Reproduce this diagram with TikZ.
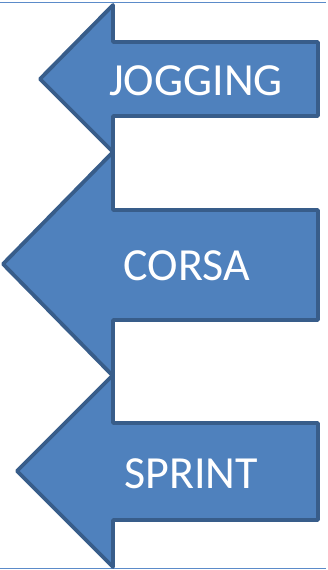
\documentclass[tikz,border=0pt]{standalone}
\usepackage{fontspec}
\setmainfont{Carlito}
\definecolor{arrowfill}{HTML}{4F81BD}
\definecolor{arrowline}{HTML}{385D8A}
\definecolor{frameline}{HTML}{5B8BC9}
\tikzset{
  leftarrow/.style={fill=arrowfill, draw=arrowline, line width=3.8pt, line join=round},
  arrowtext/.style={text=white, font=\fontsize{46}{46}\selectfont, anchor=base, inner sep=0pt},
  frame/.style={draw=frameline, line width=1.5pt}
}
\begin{document}
\begin{tikzpicture}[x=1pt,y=-1pt]
      \useasboundingbox (0,0) rectangle (327,570);
      % Coordinates: frame lines
      \coordinate (TL) at (0,2.5);
      \coordinate (TR) at (326,2.5);
      \coordinate (BL) at (0,568.5);
      \coordinate (BR) at (326,568.5);
      \draw[frame] (TL) -- (TR);
      \draw[frame] (BL) -- (BR);
      % Arrows: top to bottom
      \draw[leftarrow] (40,79) -- (113,5) -- (113,42) -- (318,42) -- (318,116) -- (113,116) -- (113,152) -- cycle;
      \draw[leftarrow] (3,264) -- (113,152) -- (113,210) -- (318,210) -- (318,320) -- (113,320) -- (113,376) -- cycle;
      \draw[leftarrow] (17,471) -- (113,375) -- (113,423) -- (318,423) -- (318,520) -- (113,520) -- (113,567) -- cycle;
      % Nodes: labels
      \node[arrowtext] (jogging) at (196,95) {JOGGING};
      \node[arrowtext] (corsa) at (187,280) {CORSA};
      \node[arrowtext] (sprint) at (191,488) {SPRINT};
    \end{tikzpicture}
\end{document}
